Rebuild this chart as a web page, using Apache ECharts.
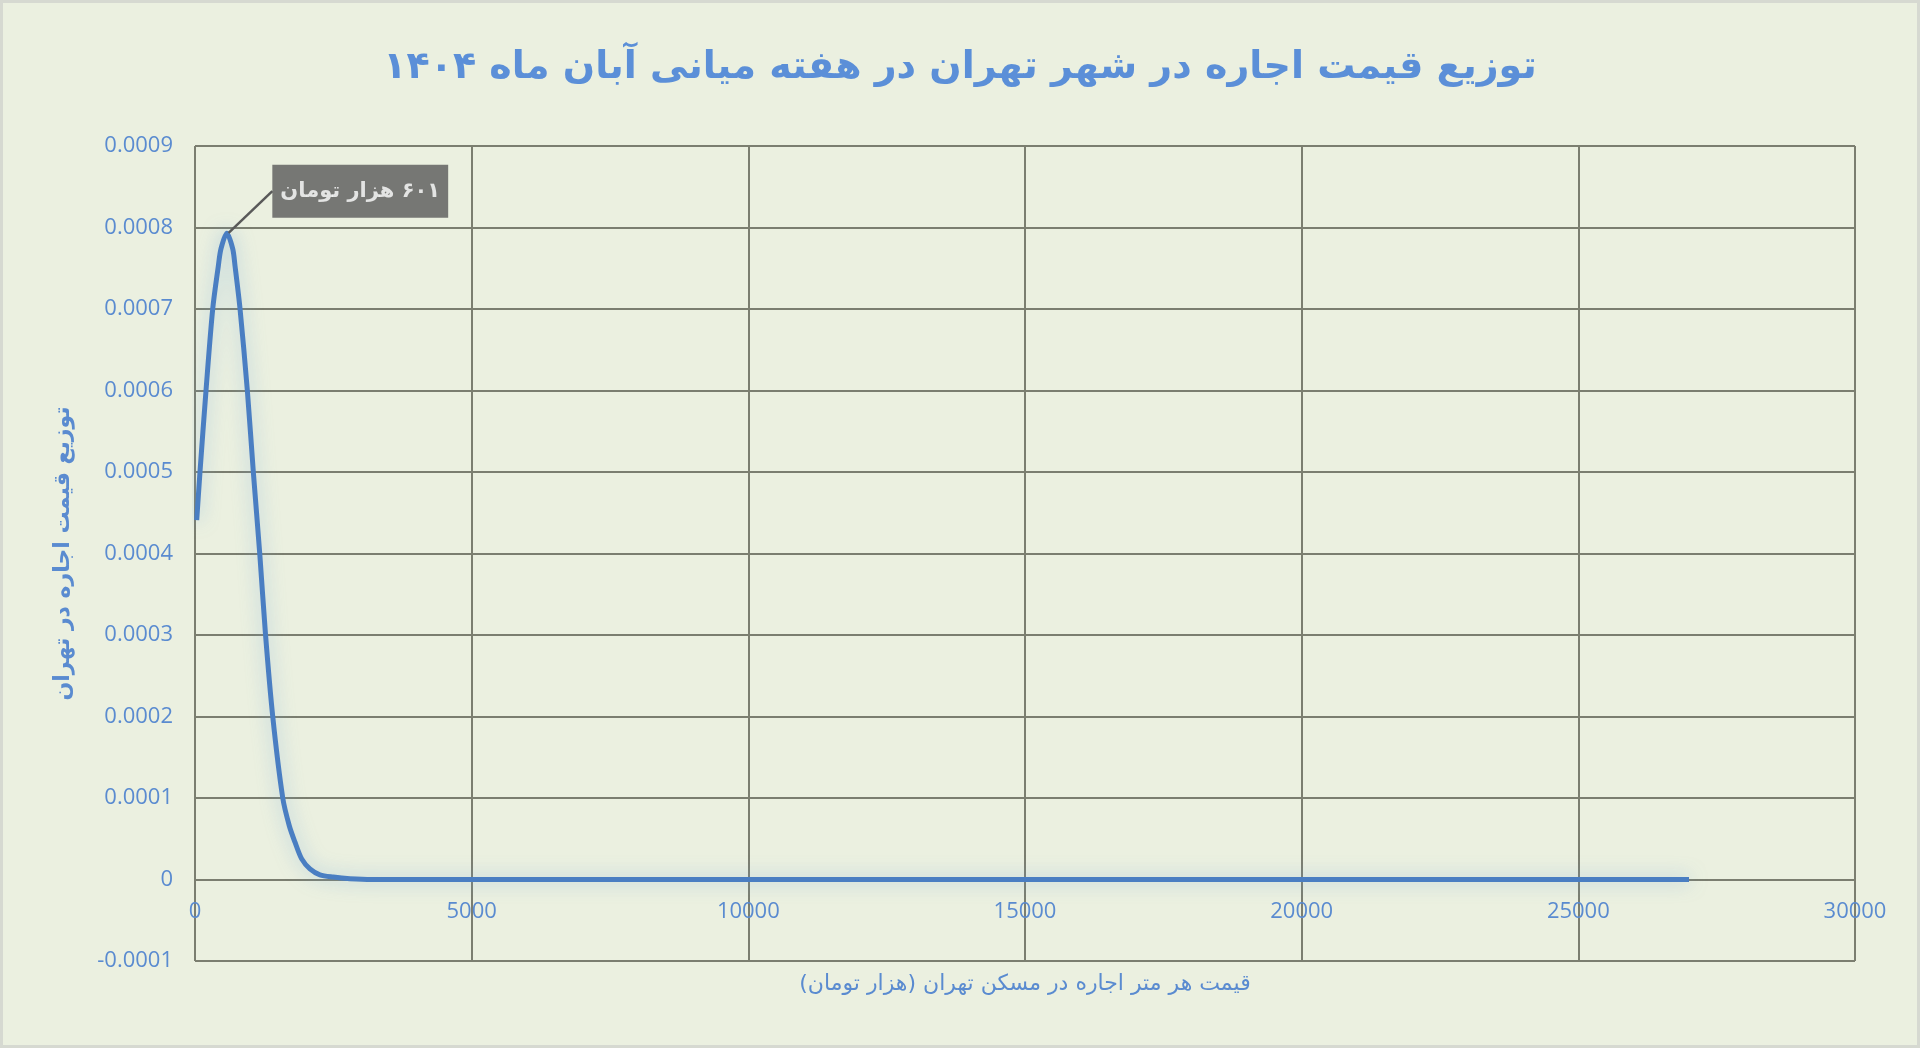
<!DOCTYPE html>
<html>
<head>
<meta charset="utf-8">
<script src="https://cdn.jsdelivr.net/npm/echarts@6/dist/echarts.min.js"></script>
<style>
html,body{margin:0;padding:0;background:#d6d9d1;}
#c{position:absolute;left:3px;top:3px;width:1914px;height:1042px;background:#ebf0e0;}
</style>
</head>
<body>
<div id="c"></div>
<script>
// Values
const titleText = 'توزیع قیمت اجاره در شهر تهران در هفته میانی آبان ماه ۱۴۰۴';
const xAxisTitle = 'قیمت هر متر اجاره در مسکن تهران (هزار تومان)';
const yAxisTitle = 'توزیع قیمت اجاره در تهران';
const peakLabel = '۶۰۱ هزار تومان';
const peakPoint = [601, 0.000793];

// price (thousand toman) -> density
const priceX = [31, 90, 199, 320, 422, 470, 575, 681, 723, 814, 946, 1054, 1170, 1275, 1405, 1586, 1704, 1807, 1928, 2077, 2258, 2499, 2800, 3200, 5000, 10000, 15000, 20000, 25000, 27000];
const densityY = [0.000441, 0.0005, 0.0006, 0.0007, 0.000753, 0.000774, 0.000793, 0.000774, 0.000753, 0.0007, 0.0006, 0.0005, 0.0004, 0.0003, 0.0002, 0.0001, 0.000066, 0.0000458, 0.0000253, 0.0000131, 0.0000058, 0.000003, 0.000001, 0, 0, 0, 0, 0, 0, 0];

const xTicks = {min: 0, max: 30000, interval: 5000};
const yTicks = {min: -0.0001, max: 0.0009, interval: 0.0001};

const blue = '#5a8bd0';
const gridColor = '#7b7e70';
const arFont = "'DejaVu Sans', 'Noto Sans', sans-serif";
const numFont = "'Open Sans', sans-serif";
const rtl = s => '\u202B' + s + '\u202C';

const lineData = priceX.map((x, i) => [x, densityY[i]]);

const chart = echarts.init(document.getElementById('c'));
chart.setOption({
  backgroundColor: '#ebf0e0',
  animation: false,
  title: {
    text: rtl(titleText),
    left: 'center',
    top: 41,
    textStyle: {color: '#5b8fd8', fontSize: 38, fontWeight: 'bold', fontFamily: arFont}
  },
  grid: {left: 192, right: 62, top: 143, bottom: 84, containLabel: false, outerBoundsMode: 'none'},
  xAxis: {
    type: 'value',
    min: xTicks.min, max: xTicks.max, interval: xTicks.interval,
    position: 'bottom',
    offset: -81.7,
    axisLine: {show: false, onZero: false},
    axisTick: {show: false},
    axisLabel: {color: blue, fontSize: 22, fontFamily: numFont, margin: 21, formatter: v => String(v)},
    splitLine: {show: true, lineStyle: {color: gridColor, width: 2}},
    name: rtl(xAxisTitle),
    nameLocation: 'middle',
    nameGap: 94,
    nameTextStyle: {color: blue, fontSize: 22, fontFamily: arFont}
  },
  yAxis: {
    type: 'value',
    min: yTicks.min, max: yTicks.max, interval: yTicks.interval,
    axisLine: {show: false},
    axisTick: {show: false},
    axisLabel: {
      color: blue, fontSize: 22, fontFamily: numFont, margin: 22,
      formatter: v => Math.abs(v) < 1e-12 ? '0' : v.toFixed(4)
    },
    splitLine: {show: true, lineStyle: {color: gridColor, width: 2}},
    name: rtl(yAxisTitle),
    nameLocation: 'middle',
    nameRotate: 90,
    nameGap: 121,
    nameTextStyle: {color: blue, fontSize: 22, fontWeight: 'bold', fontFamily: arFont}
  },
  series: [
    {
      type: 'line',
      data: lineData,
      smooth: 0.3,
      showSymbol: false,
      symbol: 'none',
      lineStyle: {color: '#4a7ec2', width: 5, shadowColor: 'rgba(110,165,215,0.55)', shadowBlur: 18},
      z: 3
    },
    {
      type: 'scatter',
      data: [peakPoint],
      symbolSize: 1,
      itemStyle: {color: 'rgba(0,0,0,0)'},
      label: {
        show: true,
        position: 'inside',
        formatter: rtl(peakLabel),
        color: '#ffffff',
        fontSize: 21,
        fontWeight: 'bold',
        fontFamily: arFont,
        backgroundColor: '#595959',
        padding: [16, 8, 16, 8]
      },
      labelLayout: {dx: 132, dy: -42},
      labelLine: {show: true, lineStyle: {color: '#595959', width: 2.5}},
      z: 5
    }
  ]
});
</script>
</body>
</html>
